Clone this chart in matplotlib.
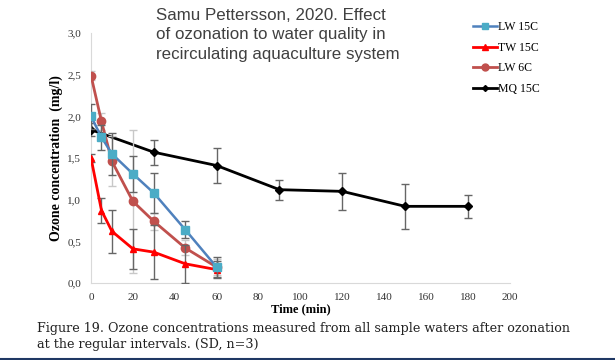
import numpy as np
import matplotlib.pyplot as plt
from matplotlib.lines import Line2D

# data
t_short = [0, 5, 10, 20, 30, 45, 60]
lw15 = [2.0, 1.75, 1.55, 1.31, 1.08, 0.64, 0.19]
lw15_sd = [0.15, 0.15, 0.25, 0.22, 0.24, 0.10, 0.12]
tw15 = [1.5, 0.87, 0.62, 0.41, 0.37, 0.23, 0.16]
tw15_sd = [0.05, 0.15, 0.26, 0.24, 0.32, 0.23, 0.10]
lw6 = [2.49, 1.94, 1.46, 0.98, 0.74, 0.42, 0.19]
lw6_sd = [0.05, 0.10, 0.30, 0.86, 0.10, 0.09, 0.10]

t_long = [0, 30, 60, 90, 120, 150, 180]
mq15 = [1.84, 1.57, 1.41, 1.12, 1.10, 0.92, 0.92]
mq15_sd = [0.08, 0.15, 0.21, 0.12, 0.22, 0.27, 0.14]

fig = plt.figure(figsize=(6.15, 3.6), dpi=100)
ax = fig.add_axes([0.148, 0.214, 0.681, 0.694])

ek = dict(elinewidth=1.0, capsize=3, capthick=1.0)
st_mq = dict(color="black", lw=2, marker="D", ms=4)
st_lw6 = dict(color="#c0504d", lw=2, marker="o", ms=6)
st_tw = dict(color="#ff0000", lw=2, marker="^", ms=5)
st_lw15 = dict(color="#4f81bd", lw=1.8, marker="s", ms=6, mfc="#4bacc6", mec="#4bacc6")

ax.errorbar(t_long, mq15, yerr=mq15_sd, ecolor="#666666", zorder=3, **st_mq, **ek)
ax.errorbar(t_short, lw6, yerr=lw6_sd, ecolor="#c8c8c8", zorder=4, **st_lw6, **ek)
ax.errorbar(t_short, tw15, yerr=tw15_sd, ecolor="#666666", zorder=5, **st_tw, **ek)
ax.errorbar(t_short, lw15, yerr=lw15_sd, ecolor="#666666", zorder=6, **st_lw15, **ek)

ax.set_xlim(0, 200)
ax.set_ylim(0, 3.0)
ax.set_xticks(np.arange(0, 201, 20))
ax.set_yticks(np.arange(0, 3.01, 0.5))
ax.set_yticklabels([f"{v:.1f}".replace(".", ",") for v in np.arange(0, 3.01, 0.5)])
for s in ["top", "right"]:
    ax.spines[s].set_visible(False)
for s in ["left", "bottom"]:
    ax.spines[s].set_color("#d9d9d9")
ax.tick_params(length=0, labelsize=8, pad=7, labelcolor="#333333")
for lab in ax.get_xticklabels() + ax.get_yticklabels():
    lab.set_family("Liberation Serif")

ax.set_xlabel("Time (min)", family="Liberation Serif", fontweight="bold", fontsize=9, labelpad=1)
ax.set_ylabel("Ozone concentration  (mg/l)", family="Liberation Serif", fontweight="bold",
              fontsize=10, labelpad=3)

handles = [Line2D([], [], **{**st_lw15, "ms": 5}), Line2D([], [], **{**st_tw, "ms": 4}),
           Line2D([], [], **{**st_lw6, "ms": 5}), Line2D([], [], **{**st_mq, "ms": 3})]
labels = ["LW 15C", "TW 15C", "LW 6C", "MQ 15C"]
fig.legend(handles, labels, loc="upper left", bbox_to_anchor=(0.752, 0.97), frameon=False,
           labelspacing=0.72, handlelength=2.0, handletextpad=0.15,
           prop={"family": "Liberation Serif", "size": 8.5})

fig.text(0.254, 0.978, "Samu Pettersson, 2020. Effect\nof ozonation to water quality in\nrecirculating aquaculture system",
         family="Liberation Sans", fontsize=12.2, color="#404040", va="top", ha="left", linespacing=1.38)

fig.text(0.06, 0.105, "Figure 19. Ozone concentrations measured from all sample waters after ozonation\nat the regular intervals. (SD, n=3)",
         family="DejaVu Serif", fontsize=9.2, color="#222222", va="top", ha="left", linespacing=1.3)
fig.add_artist(Line2D([0, 1], [0.004, 0.004], color="#1f3864", lw=1.5))

fig.savefig("out.png", dpi=100)
